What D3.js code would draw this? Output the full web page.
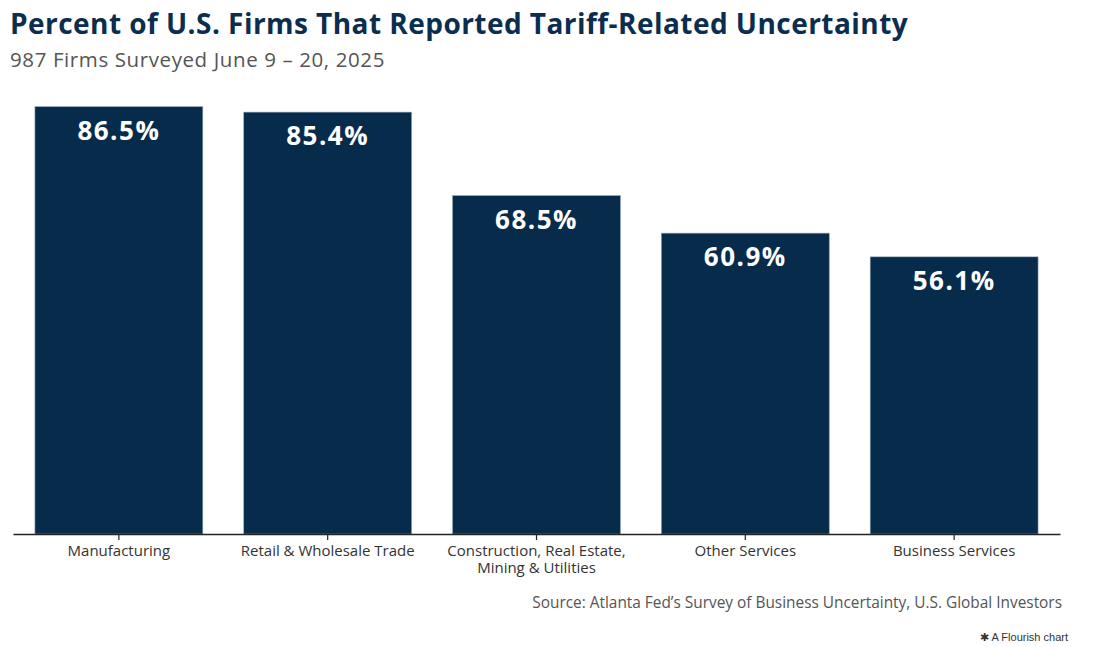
<!DOCTYPE html>
<html>
<head>
<meta charset="utf-8">
<script src="https://cdn.jsdelivr.net/npm/d3@7"></script>
<style>
  body { margin: 0; background: #fff; }
  svg text { font-family: "Open Sans", "Noto Sans", sans-serif; }
</style>
</head>
<body>
<div id="chart"></div>
<script>
const categories = ['Manufacturing', 'Retail & Wholesale Trade', 'Construction, Real Estate,|Mining & Utilities', 'Other Services', 'Business Services'];
const values = [86.5, 85.4, 68.5, 60.9, 56.1];

const width = 1100;
const height = 647;
const barColor = '#072b4b';

const svg = d3.select('#chart')
    .append('svg')
    .attr('width', width)
    .attr('height', height);

// Title and subtitle
svg.append('text')
    .attr('x', 10)
    .attr('y', 34)
    .attr('font-size', 28)
    .attr('font-weight', 700)
    .attr('letter-spacing', 0.45)
    .attr('fill', '#0b2d4f')
    .text('Percent of U.S. Firms That Reported Tariff-Related Uncertainty');

svg.append('text')
    .attr('x', 10)
    .attr('y', 67)
    .attr('font-size', 20.5)
    .attr('letter-spacing', 0.6)
    .attr('fill', '#555')
    .text('987 Firms Surveyed June 9 – 20, 2025');

const x = d3.scaleBand()
    .domain(categories)
    .range([13, 1060])
    .paddingInner(0.196)
    .paddingOuter(0.105);

const y = d3.scaleLinear()
    .domain([0, 100])
    .range([534, 40]);

const data = categories.map((c, i) => ({ cat: c, value: values[i] }));

svg.selectAll('rect.bar')
    .data(data)
    .enter().append('rect')
    .attr('class', 'bar')
    .attr('x', d => x(d.cat))
    .attr('y', d => y(d.value))
    .attr('width', x.bandwidth())
    .attr('height', d => y(0) - y(d.value))
    .attr('fill', barColor)
    .attr('stroke', '#8fa3b6')
    .attr('stroke-width', 0.6);

svg.selectAll('text.value')
    .data(data)
    .enter().append('text')
    .attr('class', 'value')
    .attr('x', d => x(d.cat) + x.bandwidth() / 2)
    .attr('y', d => y(d.value) + 33)
    .attr('text-anchor', 'middle')
    .attr('font-size', 26)
    .attr('font-weight', 700)
    .attr('letter-spacing', 1.5)
    .attr('fill', '#fff')
    .text(d => d.value.toFixed(1) + '%');

// x axis
const axis = svg.append('g')
    .attr('transform', `translate(0,${y(0)})`)
    .call(d3.axisBottom(x).tickSize(6).tickSizeOuter(0).tickFormat(''));

axis.select('.domain').attr('stroke', '#222').attr('stroke-width', 1.5);
axis.selectAll('.tick line').attr('stroke', '#222').attr('stroke-width', 1.2);

axis.selectAll('.tick')
    .append('text')
    .attr('fill', '#333')
    .attr('font-size', 15)
    .attr('text-anchor', 'middle')
    .selectAll('tspan')
    .data(d => d.split('|'))
    .enter().append('tspan')
    .attr('x', 0)
    .attr('y', (d, i) => 22 + i * 16.5)
    .text(d => d);

// Source + credit
svg.append('text')
    .attr('x', 1062)
    .attr('y', 608)
    .attr('text-anchor', 'end')
    .attr('font-size', 15.4)
    .attr('fill', '#555')
    .text('Source: Atlanta Fed’s Survey of Business Uncertainty, U.S. Global Investors');

svg.append('text')
    .attr('x', 1068)
    .attr('y', 641)
    .attr('text-anchor', 'end')
    .attr('font-size', 11)
    .attr('fill', '#333')
    .style('font-family', 'Arial, "Liberation Sans", sans-serif')
    .text('✱ A Flourish chart');
</script>
</body>
</html>
